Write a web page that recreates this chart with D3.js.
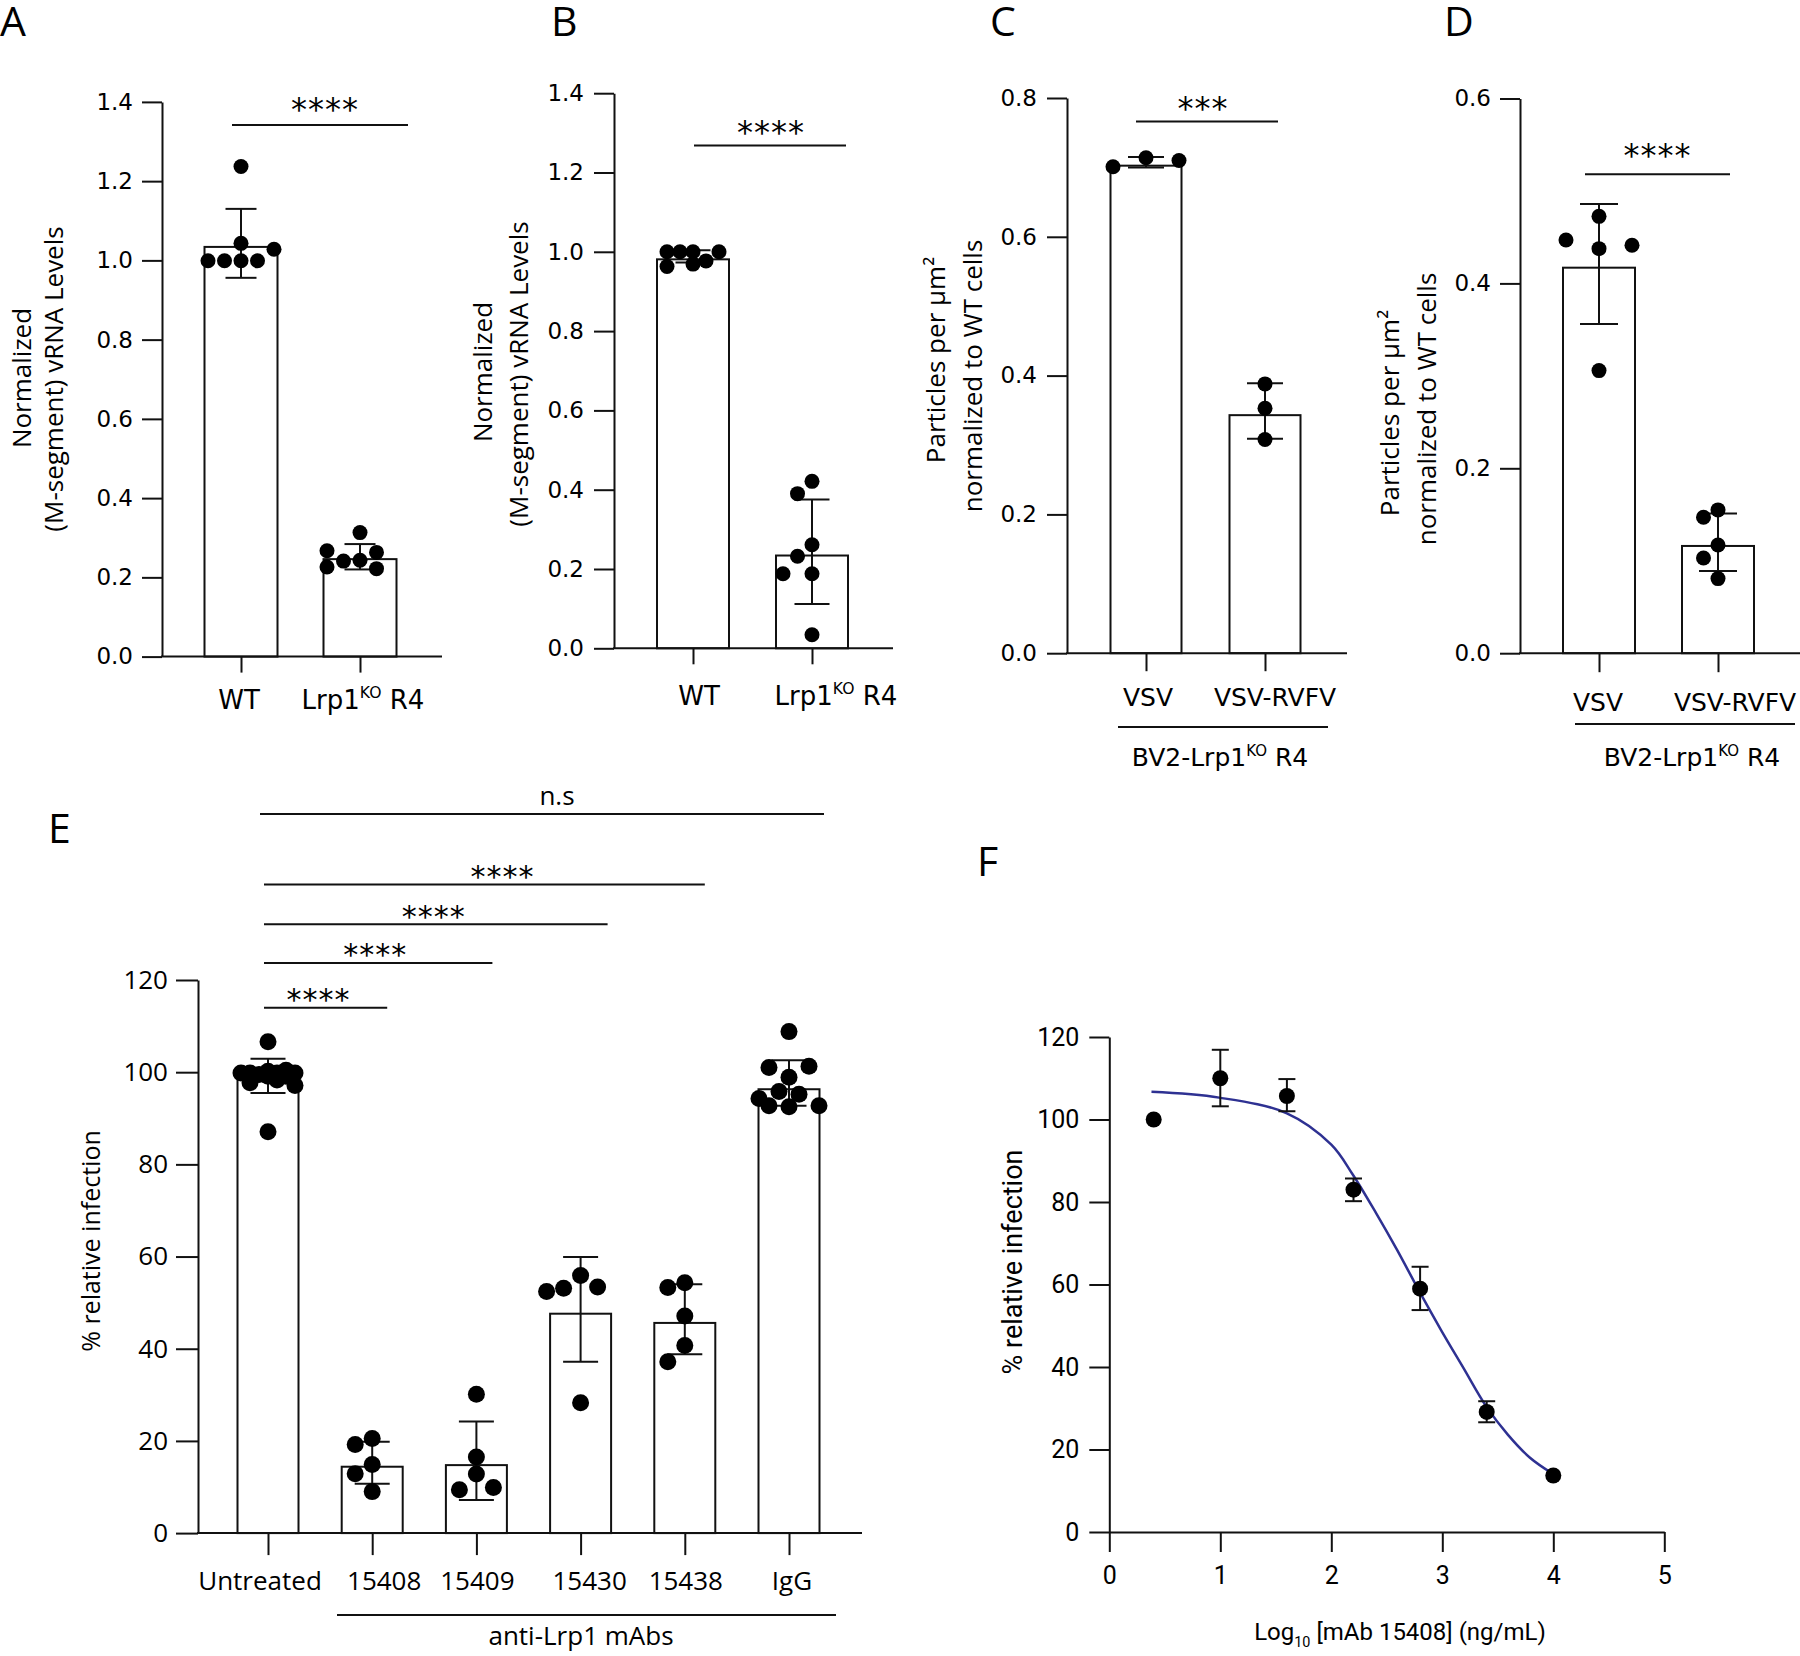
<!DOCTYPE html>
<html><head><meta charset="utf-8">
<script src="https://cdn.jsdelivr.net/npm/d3@7"></script>
<style>html,body{margin:0;padding:0;background:#fff}</style>
</head><body>
<svg id="fig" width="1800" height="1656" xmlns="http://www.w3.org/2000/svg"></svg>
<script>
// ===================== DATA =====================
// Panel A
const A_categories = ["WT", "Lrp1{KO} R4"];
const A_means = [1.034, 0.246];
const A_errLow = [0.956, 0.220];
const A_errHigh = [1.130, 0.284];
const A_pointsWT = [1.237, 0.999, 0.999, 0.999, 0.999, 1.028, 1.043];
const A_pointsKO = [0.313, 0.243, 0.241, 0.263, 0.267, 0.222, 0.226];
const A_yTicks = [0, 0.2, 0.4, 0.6, 0.8, 1.0, 1.2, 1.4];
const A_significance = "****";

// Panel B
const B_categories = ["WT", "Lrp1{KO} R4"];
const B_means = [0.981, 0.234];
const B_errLow = [0.973, 0.112];
const B_errHigh = [1.004, 0.375];
const B_pointsWT = [1.0, 1.0, 1.0, 1.0, 0.977, 0.969, 0.963];
const B_pointsKO = [0.421, 0.390, 0.261, 0.232, 0.188, 0.188, 0.034];
const B_yTicks = [0, 0.2, 0.4, 0.6, 0.8, 1.0, 1.2, 1.4];
const B_significance = "****";

// Panel C
const C_categories = ["VSV", "VSV-RVFV"];
const C_means = [0.7025, 0.343];
const C_errLow = [0.700, 0.309];
const C_errHigh = [0.715, 0.389];
const C_pointsVSV = [0.714, 0.701, 0.710];
const C_pointsRVFV = [0.388, 0.353, 0.308];
const C_yTicks = [0, 0.2, 0.4, 0.6, 0.8];
const C_significance = "***";
const C_group = "BV2-Lrp1{KO} R4";

// Panel D
const D_categories = ["VSV", "VSV-RVFV"];
const D_means = [0.417, 0.116];
const D_errLow = [0.356, 0.089];
const D_errHigh = [0.486, 0.151];
const D_pointsVSV = [0.4725, 0.4376, 0.447, 0.4413, 0.3057];
const D_pointsRVFV = [0.155, 0.147, 0.117, 0.103, 0.0807];
const D_yTicks = [0, 0.2, 0.4, 0.6];
const D_significance = "****";
const D_group = "BV2-Lrp1{KO} R4";

// Panel E
const E_categories = ["Untreated", "15408", "15409", "15430", "15438", "IgG"];
const E_means = [98.9, 14.4, 14.75, 47.6, 45.6, 96.3];
const E_errLow = [95.5, 10.7, 7.2, 37.2, 38.8, 92.7];
const E_errHigh = [102.9, 19.8, 24.2, 59.9, 54.0, 102.6];
const E_pointsUntreated = [106.6, 87.1, 100.2, 99.8, 100.4, 99.8, 99.8, 99.5, 99.8, 99.1, 99.1, 98.3, 97.7, 97.1];
const E_points15408 = [9.0, 20.5, 19.2, 14.9, 12.9];
const E_points15409 = [30.1, 16.5, 12.8, 9.4, 9.9];
const E_points15430 = [28.3, 55.9, 53.1, 53.4, 52.4];
const E_points15438 = [47.1, 54.3, 53.3, 40.7, 37.2];
const E_pointsIgG = [108.8, 98.9, 101.0, 101.3, 95.8, 95.2, 92.7, 92.7, 94.3, 92.5];
const E_yTicks = [0, 20, 40, 60, 80, 100, 120];
const E_sigPairs = [[0, 1], [0, 2], [0, 3], [0, 4], [0, 5]];
const E_sigLabels = ["****", "****", "****", "****", "n.s"];
const E_group = "anti-Lrp1 mAbs";

// Panel F
const F_x = [0.4, 1.0, 1.6, 2.2, 2.8, 3.4, 4.0];
const F_y = [100.0, 110.0, 105.7, 83.0, 59.0, 29.1, 13.7];
const F_errLow = [null, 103.2, 102.0, 80.2, 53.8, 26.6, null];
const F_errHigh = [null, 116.9, 109.8, 85.7, 64.3, 31.7, null];
const F_curveX = [0.38, 0.99, 1.6, 2.0, 2.19, 2.41, 2.59, 2.79, 2.99, 3.19, 3.39, 3.59, 3.79, 3.99];
const F_curveY = [106.7, 105.3, 101.5, 93.9, 86.8, 77.0, 68.5, 58.5, 48.9, 39.8, 30.7, 23.6, 18.0, 14.2];
const F_xTicks = [0, 1, 2, 3, 4, 5];
const F_yTicks = [0, 20, 40, 60, 80, 100, 120];

// ===================== STYLE / HELPERS =====================
const svg = d3.select("#fig");
const INK = "#111";
const GEO = "'DejaVu Sans', sans-serif";
const SANS = "'Open Sans', sans-serif";
const NARROW = "Roboto, sans-serif";

function richText(sel, str, fs, mode) {
  sel.text(null);
  const parts = String(str).split(/[{}]/);
  const shift = mode === "sub" ? fs * 0.28 : -fs * 0.42;
  let cur = 0;
  parts.forEach((p, i) => {
    if (p === "") return;
    const isScript = i % 2 === 1;
    const target = isScript ? shift : 0;
    const ts = sel.append("tspan").text(p).attr("dy", target - cur);
    if (isScript) ts.attr("font-size", fs * 0.6);
    cur = target;
  });
}

function styleAxis(ax, font, size) {
  ax.attr("font-family", font).attr("font-size", size);
  ax.select(".domain").attr("stroke", INK).attr("stroke-width", 2);
  ax.selectAll(".tick line").attr("stroke", INK).attr("stroke-width", 2);
  ax.selectAll(".tick text").attr("fill", "#000");
}

// scatter-dot layout: points spread on a horizontal grid to avoid overlap
function swarm(values, y, cx, step, maxOff, minD) {
  const cands = [0];
  for (let k = 1; k * step <= maxOff + 0.01; k++) { cands.push(-k * step, k * step); }
  const placed = [];
  values.forEach(v => {
    const py = y(v);
    let best = null, bestScore = -1;
    for (const c of cands) {
      const md = placed.length ? d3.min(placed, p => Math.hypot(p.x - c, p.y - py)) : Infinity;
      if (md >= minD) { best = c; break; }
      if (md > bestScore) { bestScore = md; best = c; }
    }
    placed.push({ x: best, y: py });
  });
  return placed.map(p => ({ cx: cx + p.x, cy: p.y }));
}

function letter(t, x, y) {
  svg.append("text").attr("x", x).attr("y", y).text(t)
    .attr("font-family", SANS).attr("font-size", 41).attr("fill", "#000");
}

function drawBarPanel(c) {
  const g = svg.append("g");
  const y = d3.scaleLinear().domain(c.yDomain).range(c.yPix);
  const x = d3.scalePoint().domain(c.categories).range(c.xRange);
  const y0 = y(0);
  const per = (v, i) => Array.isArray(v) ? v[i] : v;
  // bars
  g.append("g").selectAll("rect").data(c.categories).join("rect")
    .attr("x", d => x(d) - c.barW / 2)
    .attr("y", (d, i) => y(c.means[i]))
    .attr("width", c.barW)
    .attr("height", (d, i) => y0 - y(c.means[i]))
    .attr("fill", "#fff").attr("stroke", INK).attr("stroke-width", 2);
  // y axis
  const ya = g.append("g").attr("transform", `translate(${c.axisX},0)`)
    .call(d3.axisLeft(y).tickValues(c.yTicks).tickFormat(c.fmt)
      .tickSize(c.yTick).tickSizeOuter(0).tickPadding(c.pad));
  styleAxis(ya, c.tickFont, c.tickSize);
  // x axis
  g.append("line").attr("x1", c.axisX - 1).attr("x2", c.axisRight)
    .attr("y1", y0).attr("y2", y0).attr("stroke", INK).attr("stroke-width", 2);
  const xa = g.append("g").attr("transform", `translate(0,${y0})`)
    .call(d3.axisBottom(x).tickSize(c.xTick).tickFormat(""));
  xa.select(".domain").remove();
  xa.selectAll(".tick line").attr("stroke", INK).attr("stroke-width", 2);
  // category labels
  g.append("g").selectAll("text").data(c.categories).join("text")
    .attr("x", (d, i) => x(d) + c.labelDx[i]).attr("y", c.labelY)
    .attr("text-anchor", "middle").attr("font-family", c.labelFont)
    .attr("font-size", c.labelSize).attr("fill", "#000")
    .each(function (d) { richText(d3.select(this), d, c.labelSize, "sup"); });
  // error bars
  c.categories.forEach((cat, i) => {
    const cx = x(cat);
    const eg = g.append("g").attr("stroke", INK).attr("stroke-width", 2);
    eg.append("line").attr("x1", cx).attr("x2", cx).attr("y1", y(c.errLow[i])).attr("y2", y(c.errHigh[i]));
    [c.errLow[i], c.errHigh[i]].forEach(v => {
      eg.append("line").attr("x1", cx - c.cap / 2).attr("x2", cx + c.cap / 2).attr("y1", y(v)).attr("y2", y(v));
    });
  });
  // points
  c.points.forEach((vals, i) => {
    const pts = swarm(vals, y, x(c.categories[i]), per(c.step, i), per(c.maxOff, i), 2 * c.r);
    g.append("g").selectAll("circle").data(pts).join("circle")
      .attr("cx", d => d.cx).attr("cy", d => d.cy).attr("r", c.r).attr("fill", "#000");
  });
  // significance
  c.sigs.forEach(s => {
    const ly = y(s.value);
    const x1 = x(c.categories[s.pair[0]]) + s.dx[0];
    const x2 = x(c.categories[s.pair[1]]) + s.dx[1];
    g.append("line").attr("x1", x1).attr("x2", x2).attr("y1", ly).attr("y2", ly)
      .attr("stroke", INK).attr("stroke-width", 2);
    const t = g.append("text").attr("x", (x1 + x2) / 2 + s.tdx).attr("text-anchor", "middle").attr("fill", "#000");
    if (s.label.indexOf("*") >= 0) {
      t.attr("y", ly - s.gap + 0.55 * c.starSize).attr("font-family", GEO).attr("font-size", c.starSize)
        .attr("letter-spacing", c.starSpacing).text(s.label);
    } else {
      t.attr("y", ly - 9).attr("font-family", SANS).attr("font-size", c.labelSize).text(s.label);
    }
  });
  // titles
  c.titles.forEach(tt => {
    g.append("text").attr("transform", `translate(${tt.x},${tt.y}) rotate(-90)`)
      .attr("text-anchor", "middle").attr("dominant-baseline", "central")
      .attr("font-family", SANS).attr("font-size", c.titleSize).attr("fill", "#000").text(tt.text);
  });
  // group line + label
  if (c.group) {
    g.append("line").attr("x1", c.group.x1).attr("x2", c.group.x2)
      .attr("y1", c.group.y).attr("y2", c.group.y).attr("stroke", INK).attr("stroke-width", 2);
    const gt = g.append("text").attr("x", c.group.tx).attr("y", c.group.ty).attr("text-anchor", "middle")
      .attr("font-family", c.group.font).attr("font-size", c.group.size).attr("fill", "#000");
    richText(gt, c.group.text, c.group.size, "sup");
  }
}

// ===================== PANELS =====================
const f1 = d3.format(".1f");

drawBarPanel({
  categories: A_categories, means: A_means, errLow: A_errLow, errHigh: A_errHigh,
  points: [A_pointsWT, A_pointsKO], yTicks: A_yTicks, yDomain: [0, 1.4], fmt: f1,
  axisX: 162, axisRight: 442, yPix: [656.6, 101.9], xRange: [241, 360],
  barW: 73, cap: 31, r: 7.5, step: 16.5, maxOff: 33, yTick: 20, pad: 9, xTick: 16,
  tickFont: GEO, tickSize: 23, labelFont: GEO, labelSize: 26, labelY: 709, labelDx: [-2, 3],
  starSize: 32, starSpacing: 1,
  sigs: [{ pair: [0, 1], label: A_significance, value: 1.342, dx: [-9, 48], tdx: 5, gap: 22 }],
  titleSize: 26,
  titles: [{ text: "Normalized", x: 21, y: 378 }, { text: "(M-segment) vRNA Levels", x: 53, y: 379 }]
});

drawBarPanel({
  categories: B_categories, means: B_means, errLow: B_errLow, errHigh: B_errHigh,
  points: [B_pointsWT, B_pointsKO], yTicks: B_yTicks, yDomain: [0, 1.4], fmt: f1,
  axisX: 614, axisRight: 893, yPix: [648.3, 93.2], xRange: [693, 812],
  barW: 72, cap: 35, r: 7.5, step: [13, 14.5], maxOff: 33, yTick: 20, pad: 10, xTick: 16,
  tickFont: GEO, tickSize: 23, labelFont: GEO, labelSize: 26, labelY: 705, labelDx: [6, 24],
  starSize: 32, starSpacing: 1,
  sigs: [{ pair: [0, 1], label: B_significance, value: 1.268, dx: [1, 34], tdx: 1, gap: 20 }],
  titleSize: 26,
  titles: [{ text: "Normalized", x: 482, y: 372 }, { text: "(M-segment) vRNA Levels", x: 518, y: 374 }]
});

drawBarPanel({
  categories: C_categories, means: C_means, errLow: C_errLow, errHigh: C_errHigh,
  points: [C_pointsVSV, C_pointsRVFV], yTicks: C_yTicks, yDomain: [0, 0.8], fmt: f1,
  axisX: 1067, axisRight: 1347, yPix: [653.2, 98], xRange: [1146, 1265],
  barW: 71, cap: 36, r: 7.5, step: 33, maxOff: 33, yTick: 20, pad: 10, xTick: 18,
  tickFont: GEO, tickSize: 23, labelFont: GEO, labelSize: 25, labelY: 706, labelDx: [2, 10],
  starSize: 32, starSpacing: 1,
  sigs: [{ pair: [0, 1], label: C_significance, value: 0.766, dx: [-10, 13], tdx: -4, gap: 20 }],
  titleSize: 26,
  titles: [{ text: "Particles per µm²", x: 935, y: 360 }, { text: "normalized to WT cells", x: 972, y: 376 }],
  group: { x1: 1118, x2: 1328, y: 727, text: C_group, tx: 1220, ty: 766, font: GEO, size: 25 }
});

drawBarPanel({
  categories: D_categories, means: D_means, errLow: D_errLow, errHigh: D_errHigh,
  points: [D_pointsVSV, D_pointsRVFV], yTicks: D_yTicks, yDomain: [0, 0.6], fmt: f1,
  axisX: 1520, axisRight: 1800, yPix: [653.2, 98.5], xRange: [1599, 1718],
  barW: 72, cap: 38, r: 7.5, step: [33, 14.5], maxOff: 33, yTick: 20, pad: 9, xTick: 19,
  tickFont: GEO, tickSize: 23, labelFont: GEO, labelSize: 25, labelY: 711, labelDx: [-1, 17],
  starSize: 32, starSpacing: 1,
  sigs: [{ pair: [0, 1], label: D_significance, value: 0.518, dx: [-14, 12], tdx: 0, gap: 26 }],
  titleSize: 26,
  titles: [{ text: "Particles per µm²", x: 1389, y: 413 }, { text: "normalized to WT cells", x: 1426, y: 409 }],
  group: { x1: 1575, x2: 1795, y: 724, text: D_group, tx: 1692, ty: 766, font: GEO, size: 25 }
});

drawBarPanel({
  categories: E_categories, means: E_means, errLow: E_errLow, errHigh: E_errHigh,
  points: [E_pointsUntreated, E_points15408, E_points15409, E_points15430, E_points15438, E_pointsIgG],
  yTicks: E_yTicks, yDomain: [0, 120], fmt: d3.format("d"),
  axisX: 198, axisRight: 862, yPix: [1533.1, 980], xRange: [268, 789],
  barW: 61, cap: 35, r: 8.5, step: [9, 17, 17, 17, 17, 10], maxOff: [27, 34, 34, 34, 34, 30],
  yTick: 22, pad: 8, xTick: 22,
  tickFont: SANS, tickSize: 26, labelFont: SANS, labelSize: 26, labelY: 1590,
  labelDx: [-8, 12, 1, 9, 1, 3],
  starSize: 30, starSpacing: 1,
  sigs: E_sigPairs.map((p, i) => ({
    pair: p, label: E_sigLabels[i],
    value: [114.0, 123.7, 132.1, 140.7, 156.0][i],
    dx: [[-4, 15], [-4, 16], [-4, 27], [-4, 20], [-8, 35]][i],
    tdx: [-7, -3, -2, 18, 15][i], gap: 14
  })),
  titleSize: 25,
  titles: [{ text: "% relative infection", x: 90, y: 1241 }],
  group: { x1: 337, x2: 836, y: 1615, text: E_group, tx: 581, ty: 1645, font: SANS, size: 26 }
});

// Panel F
(function () {
  const g = svg.append("g");
  const x = d3.scaleLinear().domain([0, 5]).range([1109.3, 1664.3]);
  const y = d3.scaleLinear().domain([0, 120]).range([1532, 1037]);
  const xa = g.append("g").attr("transform", "translate(0,1532)")
    .call(d3.axisBottom(x).tickValues(F_xTicks).tickFormat(d3.format("d"))
      .tickSize(20).tickSizeOuter(0).tickPadding(14));
  styleAxis(xa, NARROW, 25);
  const ya = g.append("g").attr("transform", "translate(1109.3,0)")
    .call(d3.axisLeft(y).tickValues(F_yTicks).tickFormat(d3.format("d"))
      .tickSize(20).tickSizeOuter(0).tickPadding(10));
  styleAxis(ya, NARROW, 25);
  // fitted curve
  const line = d3.line().x((d, i) => x(F_curveX[i])).y((d, i) => y(F_curveY[i])).curve(d3.curveCatmullRom);
  g.append("path").datum(F_curveX).attr("d", line).attr("fill", "none")
    .attr("stroke", "#2e3192").attr("stroke-width", 2.5);
  // error bars
  F_x.forEach((xv, i) => {
    if (F_errLow[i] == null) return;
    const eg = g.append("g").attr("stroke", INK).attr("stroke-width", 2);
    const cx = x(xv);
    eg.append("line").attr("x1", cx).attr("x2", cx).attr("y1", y(F_errLow[i])).attr("y2", y(F_errHigh[i]));
    [F_errLow[i], F_errHigh[i]].forEach(v => {
      eg.append("line").attr("x1", cx - 8.5).attr("x2", cx + 8.5).attr("y1", y(v)).attr("y2", y(v));
    });
  });
  // points
  g.append("g").selectAll("circle").data(F_x).join("circle")
    .attr("cx", d => x(d)).attr("cy", (d, i) => y(F_y[i])).attr("r", 8).attr("fill", "#000");
  // titles
  g.append("text").attr("transform", "translate(1013,1262) rotate(-90)")
    .attr("text-anchor", "middle").attr("dominant-baseline", "central")
    .attr("font-family", NARROW).attr("font-size", 27).attr("fill", "#000").text("% relative infection");
  const xt = g.append("text").attr("x", 1400).attr("y", 1640).attr("text-anchor", "middle")
    .attr("font-family", NARROW).attr("font-size", 24).attr("fill", "#000");
  richText(xt, "Log{10} [mAb 15408] (ng/mL)", 24, "sub");
})();

// panel letters
letter("A", 0, 36);
letter("B", 551, 36);
letter("C", 990, 36);
letter("D", 1444, 36);
letter("E", 48, 843);
letter("F", 977, 876);
</script>
</body></html>
